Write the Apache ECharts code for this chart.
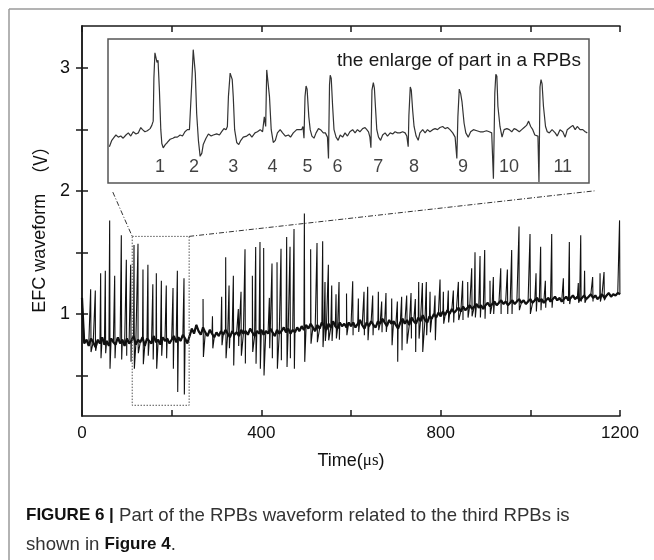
<!DOCTYPE html>
<html><head><meta charset="utf-8">
<script src="https://cdn.jsdelivr.net/npm/echarts@6/dist/echarts.min.js"></script>
<style>html,body{margin:0;padding:0;background:#fff}#c{width:654px;height:560px}</style>
</head><body><div id="c"></div>
<script>
// ---- main waveform: baseline samples (every 5 us from 0 to 1200), volts
const baseStep = 5;
const baseV = [
1.13,0.76,0.79,0.74,0.80,0.77,0.73,0.79,0.76,0.81,0.75,0.78,0.74,0.80,0.77,0.75,0.81,0.76,0.79,0.74,
0.80,0.76,0.78,0.82,0.75,0.79,0.77,0.81,0.74,0.80,0.78,0.76,0.82,0.77,0.79,0.75,0.81,0.78,0.80,0.76,
0.79,0.82,0.77,0.81,0.78,0.83,0.80,0.76,0.82,0.88,0.84,0.91,0.86,0.83,0.89,0.85,0.82,0.87,0.84,0.81,
0.85,0.82,0.86,0.83,0.87,0.84,0.81,0.86,0.83,0.85,0.82,0.87,0.84,0.86,0.83,0.88,0.85,0.82,0.86,0.84,
0.87,0.83,0.86,0.84,0.88,0.85,0.82,0.87,0.84,0.86,0.89,0.85,0.88,0.84,0.87,0.85,0.89,0.86,0.90,0.87,
0.91,0.88,0.92,0.89,0.86,0.91,0.88,0.93,0.90,0.87,0.92,0.89,0.94,0.90,0.88,0.93,0.90,0.92,0.89,0.93,
0.90,0.93,0.89,0.92,0.95,0.91,0.88,0.93,0.90,0.94,0.91,0.89,0.94,0.92,0.96,0.93,0.90,0.95,0.92,0.94,
0.91,0.88,0.93,0.96,0.92,0.95,0.91,0.97,0.94,0.92,0.97,0.94,0.99,0.95,0.93,0.98,0.96,1.00,0.97,1.01,
0.98,1.02,0.99,1.03,1.00,1.04,1.01,1.03,1.05,1.02,1.06,1.03,1.05,1.07,1.04,1.06,1.08,1.05,1.07,1.04,
1.07,1.09,1.06,1.08,1.10,1.07,1.09,1.11,1.08,1.10,1.07,1.09,1.11,1.08,1.10,1.12,1.09,1.11,1.08,1.10,
1.12,1.09,1.11,1.13,1.10,1.12,1.09,1.11,1.13,1.10,1.12,1.14,1.11,1.13,1.10,1.12,1.14,1.11,1.13,1.15,
1.12,1.14,1.11,1.13,1.15,1.12,1.14,1.16,1.13,1.15,1.12,1.14,1.16,1.13,1.15,1.17,1.14,1.16,1.15,1.17,
1.16
];
// ---- spikes: time (us), peak (V), following dip (V)
const spikeT = [19.3,29.7,41.6,52,61.7,72.9,87.7,98.9,108.6,116,124.9,136,147,158,165.8,177,188,203,212.7,227.5,270,
291,311.5,320.5,328,337.6,348.7,354.7,363.6,380,387.4,397,405.2,417.9,423.8,435,443.9,456.5,464,472.9,496,510,524.2,536.8,542,549.5,557,566.6,573.3,590,
603.8,616.4,629,637.2,648.4,661,668.4,678,690.8,703.4,713,724.2,733.9,743.5,751,759.2,768,776.3,787.4,798.6,806,817,828.3,839.5,849,860.3,869.2,876.6,
887.8,898.2,910,917.5,934,948.8,958.4,974.8,999.3,1012.7,1023,1033.5,1047.7,1073.7,1087,1107,1112.4,1121,1139,1155.5,1164.4,1199];
const spikeHi = [1.20,1.19,1.33,1.35,1.76,1.31,1.64,1.44,1.40,1.56,1.57,1.36,1.40,1.24,1.33,1.27,1.23,1.21,1.35,1.29,1.12,
0.98,1.14,1.46,1.23,1.31,1.04,1.18,1.525,1.31,1.544,1.585,1.535,1.13,1.41,1.42,1.53,1.625,1.545,1.69,1.815,1.525,1.577,1.59,1.26,1.40,1.23,1.16,1.26,1.165,
1.265,1.125,1.18,1.22,1.15,1.18,1.10,1.17,1.125,1.10,1.14,1.15,1.17,1.12,1.26,1.25,1.26,1.18,1.15,1.28,1.18,1.19,1.19,1.26,1.27,1.26,1.37,1.50,
1.47,1.52,1.27,1.30,1.37,1.36,1.52,1.71,1.65,1.33,1.545,1.27,1.65,1.29,1.585,1.25,1.64,1.35,1.30,1.33,1.34,1.76];
const spikeLo = [0.69,0.70,0.64,0.68,0.555,0.64,0.63,0.66,0.61,0.555,0.68,0.59,0.66,0.63,0.555,0.66,0.64,0.555,0.365,0.344,0.65,
0.72,0.745,0.64,0.72,0.58,0.74,0.66,0.596,0.69,0.595,0.555,0.50,0.72,0.64,0.555,0.623,0.569,0.64,0.555,0.61,0.758,0.77,0.73,0.78,0.785,0.78,0.80,0.79,0.826,
0.826,0.853,0.826,0.786,0.826,0.867,0.85,0.853,0.745,0.61,0.704,0.758,0.80,0.69,0.799,0.69,0.826,0.85,0.786,0.989,0.92,0.93,0.93,0.95,0.95,0.97,0.98,0.97,
0.97,0.96,1.0,1.0,1.0,1.0,1.0,1.03,1.0,1.02,1.03,1.05,1.05,1.08,1.08,1.09,1.10,1.09,1.10,1.10,1.11,1.16];

// ---- enlarged inset waveform (us, V)
const insetT = [102.6,103.3,104.0,104.5,105.2,105.9,106.6,107.4,108.1,108.8,109.5,110.3,111.0,111.7,112.2,112.9,113.6,114.4,114.9,115.3,115.5,115.8,116.1,116.4,116.7,117.1,117.5,117.8,118.2,118.8,119.4,120.2,121.0,121.6,122.3,123.1,123.8,124.5,125.2,125.8,126.2,126.5,126.9,127.2,127.5,127.9,128.4,128.9,129.4,129.8,130.6,131.3,132.1,132.7,133.7,134.5,135.1,135.8,136.4,136.8,137.1,137.6,137.9,138.2,138.5,138.9,139.5,140.1,140.7,141.4,142.4,143.2,143.9,144.8,145.5,146.3,147.0,147.5,147.9,148.2,148.6,149.0,149.5,150.1,150.7,151.3,152.1,152.8,153.6,154.5,155.1,155.9,156.9,157.7,158.3,158.7,159.0,159.3,159.6,159.9,160.4,160.8,161.3,161.9,162.5,163.2,163.8,164.6,165.2,165.8,166.1,166.4,166.6,166.9,167.3,167.7,168.3,168.9,169.5,
170.2,170.9,171.6,172.3,173.1,173.8,174.5,175.2,176.0,176.7,177.2,177.7,178.1,178.4,178.7,179.1,179.4,179.7,180.1,180.6,181.2,181.8,182.5,183.2,184.0,184.7,185.4,186.1,186.8,187.6,188.3,188.8,189.2,189.4,189.8,190.1,190.5,190.9,191.5,192.1,192.6,193.4,194.1,194.8,195.5,196.3,197.0,197.7,198.4,199.2,199.9,200.6,201.3,202.1,202.8,203.3,203.6,204.0,204.4,204.8,205.4,205.9,206.6,207.3,208.1,209.1,210.0,211.0,211.9,212.7,213.4,213.9,214.3,214.6,214.9,215.2,215.8,216.4,217.0,217.8,218.5,219.2,219.9,220.6,221.4,222.1,222.8,223.5,224.1,224.7,225.3,225.9,226.8,227.1,227.4,227.7,228.0,228.4,229.0,229.5,230.1,230.9,231.8,232.4,233.2,234.0,234.7,235.3,236.1,236.9,237.6,238.2,239.0,239.8,240.5,241.1];
const insetV = [0.67,0.73,0.76,0.78,0.76,0.77,0.75,0.78,0.80,0.77,0.81,0.79,0.80,0.85,0.83,0.81,0.82,0.84,0.87,0.91,1.31,1.55,1.56,1.46,1.48,1.20,0.83,0.70,0.66,0.69,0.71,0.74,0.75,0.76,0.76,0.78,0.77,0.81,0.83,0.83,0.84,1.28,1.58,1.58,1.36,0.98,0.73,0.58,0.61,0.69,0.75,0.79,0.77,0.78,0.79,0.78,0.81,0.84,0.83,0.86,1.14,1.36,1.33,1.30,1.14,0.83,0.71,0.69,0.73,0.76,0.77,0.79,0.76,0.80,0.81,0.83,0.81,0.95,0.86,1.39,1.40,1.14,0.83,0.71,0.73,0.80,0.83,0.80,0.77,0.78,0.76,0.80,0.83,0.83,0.83,0.86,0.75,1.14,1.24,1.21,0.95,0.83,0.77,0.75,0.80,0.84,0.83,0.80,0.80,0.76,0.56,1.25,1.34,1.31,1.05,0.83,0.76,0.73,0.78,
0.76,0.80,0.77,0.81,0.83,0.80,0.83,0.81,0.84,0.85,0.83,0.81,0.76,0.66,1.20,1.27,1.22,1.05,0.83,0.76,0.73,0.78,0.80,0.77,0.80,0.79,0.81,0.80,0.80,0.81,0.80,0.77,0.67,0.96,1.23,1.20,1.01,0.86,0.77,0.73,0.80,0.83,0.80,0.83,0.81,0.83,0.84,0.83,0.85,0.86,0.84,0.85,0.83,0.80,0.76,0.56,0.95,1.21,1.17,1.09,0.89,0.80,0.76,0.81,0.83,0.82,0.81,0.81,0.82,0.81,0.80,0.37,1.17,1.35,1.33,1.05,0.86,0.76,0.83,0.84,0.83,0.81,0.84,0.83,0.81,0.83,0.85,0.87,0.91,0.86,0.83,0.78,0.77,0.34,1.23,1.30,1.26,1.05,0.86,0.81,0.80,0.83,0.80,0.77,0.83,0.81,0.76,0.83,0.85,0.87,0.83,0.86,0.83,0.83,0.81,0.80];
const insetLabelNames = ['1','2','3','4','5','6','7','8','9','10','11'];
const insetLabelT = [117.3,127.1,138.5,149.9,160.0,168.7,180.5,190.9,205.1,218.4,234.0];
const insetLabelV = 0.48;

// ---- annotation: zoomed region and connector ends (us, V)
const boxT = [112, 239];
const boxV = [0.257, 1.63];
const connLeft = [[68.7, 1.99], [112, 1.63]];
const connRight = [[239, 1.63], [1143, 2.0]];

// ---- axes
const xMin = 0, xMax = 1200, xStep = 200;
const xLabels = [0, 400, 800, 1200];
const yMin = 0.17, yMax = 3.34;
const yLabels = [1, 2, 3];
const yTicks = [0.5, 1, 1.5, 2, 2.5, 3];
const insetXRange = [102.2, 241.6];
const insetYRange = [0.33, 1.68];

// build merged waveform
const band = baseV.map((v, i) => [i * baseStep, v]);
const wave = band.slice();
spikeT.forEach((t, i) => { wave.push([t, spikeHi[i]]); wave.push([t + 0.8, spikeLo[i]]); });
wave.sort((a, b) => a[0] - b[0]);

const inset = insetT.map((t, i) => [t, insetV[i]]);
const insetLabels = insetLabelT.map((t, i) => ({ value: [t, insetLabelV], name: insetLabelNames[i] }));

const FONT = '"Liberation Sans", Arial, sans-serif';
const CJK = '"Noto Sans CJK SC", sans-serif';
const axisLine = { show: true, lineStyle: { color: '#1a1a1a', width: 1.5 } };

const chart = echarts.init(document.getElementById('c'), null, { renderer: 'canvas' });
chart.setOption({
  animation: false,
  backgroundColor: '#fff',
  textStyle: { fontFamily: FONT },
  grid: [
    { left: 82, right: 34, top: 26, bottom: 144 },
    { left: 108, top: 39, width: 481, height: 144, show: true, borderColor: '#555', borderWidth: 1.5, backgroundColor: '#fff', z: 3 }
  ],
  xAxis: [
    { type: 'value', gridIndex: 0, position: 'bottom', min: xMin, max: xMax, interval: xStep,
      axisLine: axisLine, splitLine: { show: false },
      axisTick: { inside: true, length: 6, lineStyle: { color: '#1a1a1a', width: 1.5 } },
      axisLabel: { margin: 9, fontSize: 17, color: '#111', fontFamily: FONT,
        formatter: v => xLabels.indexOf(v) >= 0 ? String(v) : '' },
      name: 'Time({mu|μs})', nameLocation: 'middle', nameGap: 36,
      nameTextStyle: { fontSize: 18, color: '#111', fontFamily: FONT,
        rich: { mu: { fontSize: 17, fontFamily: '"Liberation Serif", serif', color: '#111' } } } },
    { type: 'value', gridIndex: 0, position: 'top', min: xMin, max: xMax, interval: xStep,
      axisLine: axisLine, splitLine: { show: false },
      axisTick: { inside: true, length: 6, lineStyle: { color: '#1a1a1a', width: 1.5 } },
      axisLabel: { show: false } },
    { type: 'value', gridIndex: 1, min: insetXRange[0], max: insetXRange[1], show: false }
  ],
  yAxis: [
    { type: 'value', gridIndex: 0, position: 'left', min: yMin, max: yMax,
      axisLine: axisLine, splitLine: { show: false },
      axisTick: { inside: true, length: 6, customValues: yTicks, lineStyle: { color: '#1a1a1a', width: 1.5 } },
      axisLabel: { margin: 12, fontSize: 18, color: '#111', fontFamily: FONT, customValues: yLabels },
      name: 'EFC waveform  {p|（V）}', nameLocation: 'middle', nameGap: 33,
      nameTextStyle: { fontSize: 18, color: '#111', fontFamily: FONT, padding: [0, 8, 0, 0],
        rich: { p: { fontSize: 18, fontFamily: CJK, color: '#111' } } } },
    { type: 'value', gridIndex: 0, position: 'right', min: yMin, max: yMax,
      axisLine: axisLine, splitLine: { show: false },
      axisTick: { inside: true, length: 6, customValues: yTicks, lineStyle: { color: '#1a1a1a', width: 1.5 } },
      axisLabel: { show: false } },
    { type: 'value', gridIndex: 1, min: insetYRange[0], max: insetYRange[1], show: false }
  ],
  series: [
    { type: 'line', xAxisIndex: 0, yAxisIndex: 0, data: band, symbol: 'none', silent: true,
      lineStyle: { color: '#111', width: 2.2 }, z: 2 },
    { type: 'line', xAxisIndex: 0, yAxisIndex: 0, data: wave, symbol: 'none', silent: true,
      lineStyle: { color: '#111', width: 1.1 }, z: 2 },
    { type: 'line', xAxisIndex: 0, yAxisIndex: 0, symbol: 'none', silent: true,
      data: [[boxT[0], boxV[1]], [boxT[1], boxV[1]], [boxT[1], boxV[0]], [boxT[0], boxV[0]], [boxT[0], boxV[1]]],
      lineStyle: { color: '#555', width: 1, type: [1.5, 1.5] }, z: 3 },
    { type: 'line', xAxisIndex: 0, yAxisIndex: 0, symbol: 'none', silent: true, data: connLeft,
      lineStyle: { color: '#333', width: 1, type: [5, 2, 1, 2] }, z: 3 },
    { type: 'line', xAxisIndex: 0, yAxisIndex: 0, symbol: 'none', silent: true, data: connRight,
      lineStyle: { color: '#333', width: 1, type: [5, 2, 1, 2] }, z: 3 },
    { type: 'line', xAxisIndex: 2, yAxisIndex: 2, data: inset, symbol: 'none', silent: true,
      lineStyle: { color: '#333', width: 1.2 }, z: 5 },
    { type: 'scatter', xAxisIndex: 2, yAxisIndex: 2, data: insetLabels, symbolSize: 0, silent: true, z: 6,
      label: { show: true, position: 'inside', formatter: p => p.name, fontSize: 18, color: '#111', fontFamily: FONT } }
  ],
  graphic: [
    { type: 'line', shape: { x1: 9, y1: 9, x2: 654, y2: 9 }, style: { stroke: '#9a9a9a', lineWidth: 1.5 }, silent: true },
    { type: 'line', shape: { x1: 9, y1: 9, x2: 9, y2: 560 }, style: { stroke: '#9a9a9a', lineWidth: 1.5 }, silent: true },
    { type: 'text', right: 654 - 581, top: 51, z: 10,
      style: { text: 'the enlarge of part in a RPBs', font: '19px ' + FONT, fill: '#1a1a1a' } },
    { type: 'text', left: 26, top: 506, z: 10,
      style: { text: '{b|FIGURE 6 |} Part of the RPBs waveform related to the third RPBs is',
        font: '18.6px ' + FONT, fill: '#333',
        rich: { b: { fontWeight: 'bold', fontSize: 17, fontFamily: FONT, fill: '#111' } } } },
    { type: 'text', left: 26, top: 535, z: 10,
      style: { text: 'shown in {b|Figure 4}.', font: '18.6px ' + FONT, fill: '#333',
        rich: { b: { fontWeight: 'bold', fontSize: 17, fontFamily: FONT, fill: '#111' } } } }
  ]
});
</script></body></html>
